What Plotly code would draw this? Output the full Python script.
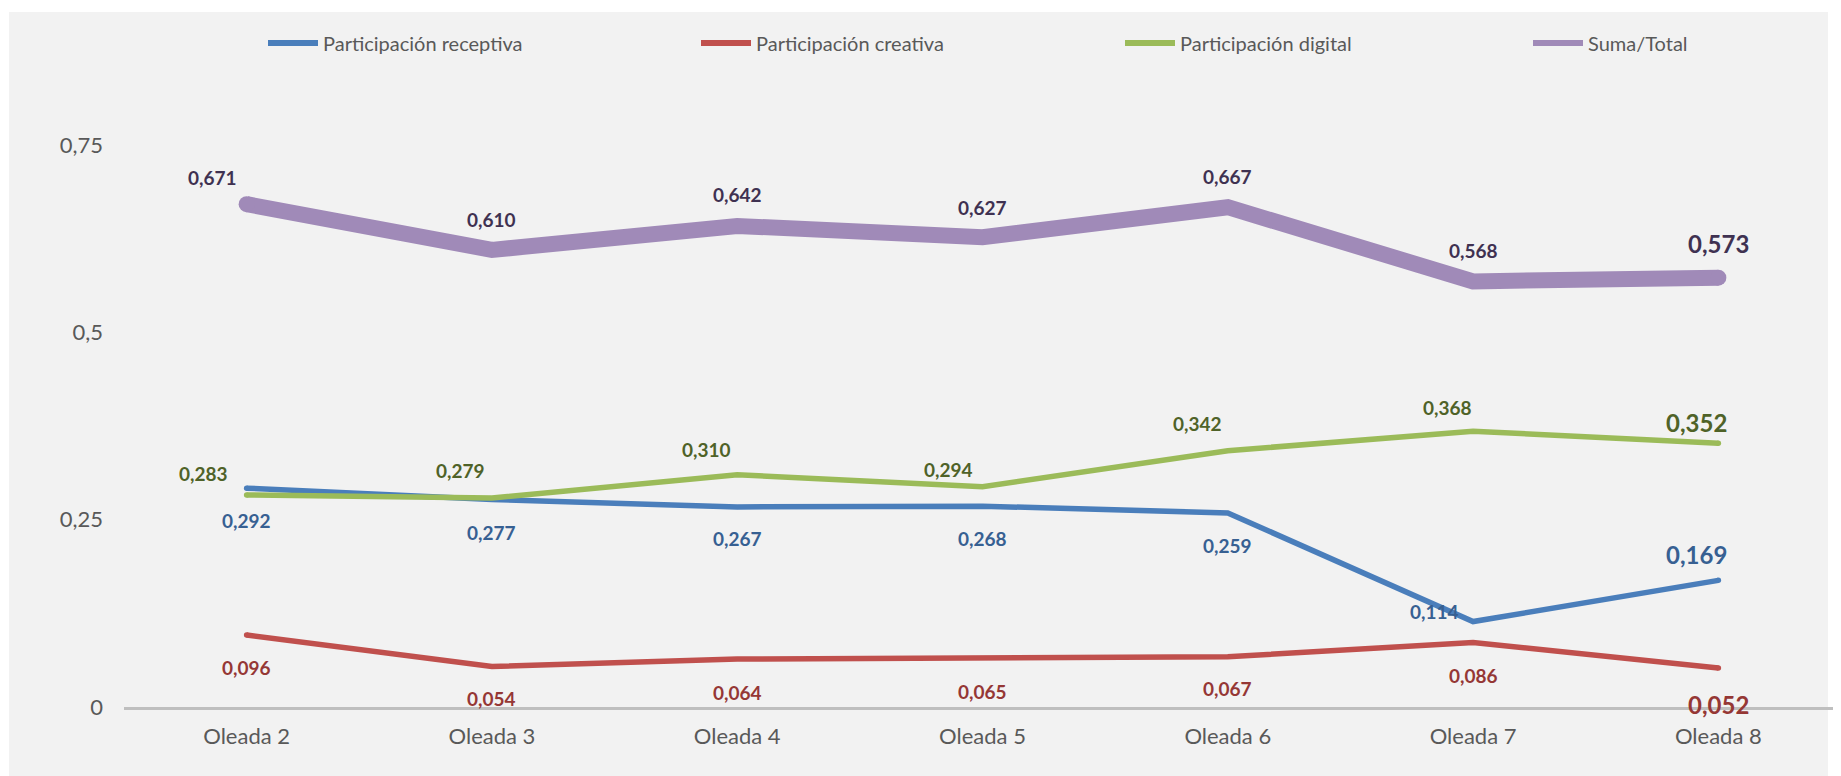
import plotly.graph_objects as go

# ---- data ----
categories = ["Oleada 2", "Oleada 3", "Oleada 4", "Oleada 5", "Oleada 6", "Oleada 7", "Oleada 8"]
receptiva = [0.292, 0.277, 0.267, 0.268, 0.259, 0.114, 0.169]
creativa = [0.096, 0.054, 0.064, 0.065, 0.067, 0.086, 0.052]
digital = [0.283, 0.279, 0.310, 0.294, 0.342, 0.368, 0.352]
total = [0.671, 0.610, 0.642, 0.627, 0.667, 0.568, 0.573]
y_ticks = [0, 0.25, 0.5, 0.75]

# ---- label offsets (px, dx right, dy down) ----
off_total = [(-34, -27), (0, -30), (0, -31), (0, -30), (0, -31), (0, -31), (0, -34)]
off_digital = [(-43, -21), (-31, -27), (-31, -25), (-34, -17), (-30, -27), (-26, -24), (-22, -21)]
off_recept = [(0, 32), (0, 33), (0, 32), (0, 32), (0, 33), (-39, -10), (-22, -26)]
off_creat = [(0, 32), (0, 32), (0, 33), (0, 33), (0, 32), (0, 33), (0, 36)]

# page has an 8px body margin; layout coordinates below are figure pixels
PAGE_OFF = 8
legend_x_px = [268 - PAGE_OFF, 701 - PAGE_OFF, 1125 - PAGE_OFF, 1533 - PAGE_OFF]

FONT = "Lato"
series = [
    ("Participación receptiva", receptiva, "#4a7ebb", "#376092", 5.5, off_recept),
    ("Participación creativa", creativa, "#c0504d", "#953735", 5.5, off_creat),
    ("Participación digital", digital, "#9bbb59", "#4f6228", 5.5, off_digital),
    ("Suma/Total", total, "#a08ab8", "#3f3151", 16, off_total),
]

W, H = 1841 - PAGE_OFF, 776 - PAGE_OFF
L, R, T, B = 124 - PAGE_OFF, 0, 145 - PAGE_OFF, 69
pw, ph = W - L - R, H - T - B
bottom_px = H - B

fig = go.Figure()
annotations = []
legends = {}
for k, (name, vals, col, lab_col, w, offs) in enumerate(series):
    lg = "legend" if k == 0 else f"legend{k + 1}"
    fig.add_trace(go.Scatter(x=categories, y=vals, mode="lines", name=name,
                             showlegend=False,
                             line=dict(color=col, width=w), hoverinfo="skip"))
    # rounded end caps
    fig.add_trace(go.Scatter(x=[categories[0], categories[-1]], y=[vals[0], vals[-1]],
                             mode="markers", showlegend=False, hoverinfo="skip",
                             marker=dict(color=col, size=w, line=dict(width=0))))
    # legend entry (uniform symbol thickness like the original)
    fig.add_trace(go.Scatter(x=[None], y=[None], mode="lines", name=name, legend=lg,
                             line=dict(color=col, width=6), hoverinfo="skip"))
    legends[lg] = dict(orientation="h", xref="container", yref="container",
                       x=(legend_x_px[k] - 5) / W, xanchor="left",
                       y=1 - (43 - PAGE_OFF) / H, yanchor="middle", itemwidth=50,
                       font=dict(family=FONT, size=20, color="#595959"),
                       bgcolor="rgba(0,0,0,0)", borderwidth=0)
    for i, (c, v) in enumerate(zip(categories, vals)):
        dx, dy = offs[i]
        size = 24 if i == len(vals) - 1 else 19
        annotations.append(dict(
            x=c, y=v, xref="x", yref="y", showarrow=False,
            text=f"{v:.3f}".replace(".", ","),
            xshift=dx, yshift=-dy, xanchor="center", yanchor="middle",
            font=dict(family=FONT, size=size, color=lab_col, weight=700),
        ))

fig.update_layout(
    width=W, height=H,
    margin=dict(l=L, r=R, t=T, b=B, pad=0, autoexpand=False),
    paper_bgcolor="white",
    plot_bgcolor="rgba(0,0,0,0)",
    separators=", ",
    showlegend=True,
    annotations=annotations,
    shapes=[dict(type="rect", xref="paper", yref="paper", layer="below",
                 x0=(9 - PAGE_OFF - L) / pw, x1=(1828 - PAGE_OFF - L) / pw,
                 y0=(bottom_px - H) / ph, y1=(bottom_px - (12 - PAGE_OFF)) / ph,
                 fillcolor="#f2f2f2", line=dict(width=0))],
    xaxis=dict(type="category", range=[-0.5, len(categories) - 0.5],
               showgrid=False, zeroline=False, showline=True,
               linecolor="#bfbfbf", linewidth=3, ticks="",
               ticklabelstandoff=8,
               tickfont=dict(family=FONT, size=22, color="#595959")),
    yaxis=dict(range=[0, 0.75], tickvals=y_ticks, showgrid=False, zeroline=False,
               showline=False, ticks="", ticklabelstandoff=20,
               tickfont=dict(family=FONT, size=22, color="#595959")),
)
fig.update_layout(**legends)

fig.write_html("out.html")
